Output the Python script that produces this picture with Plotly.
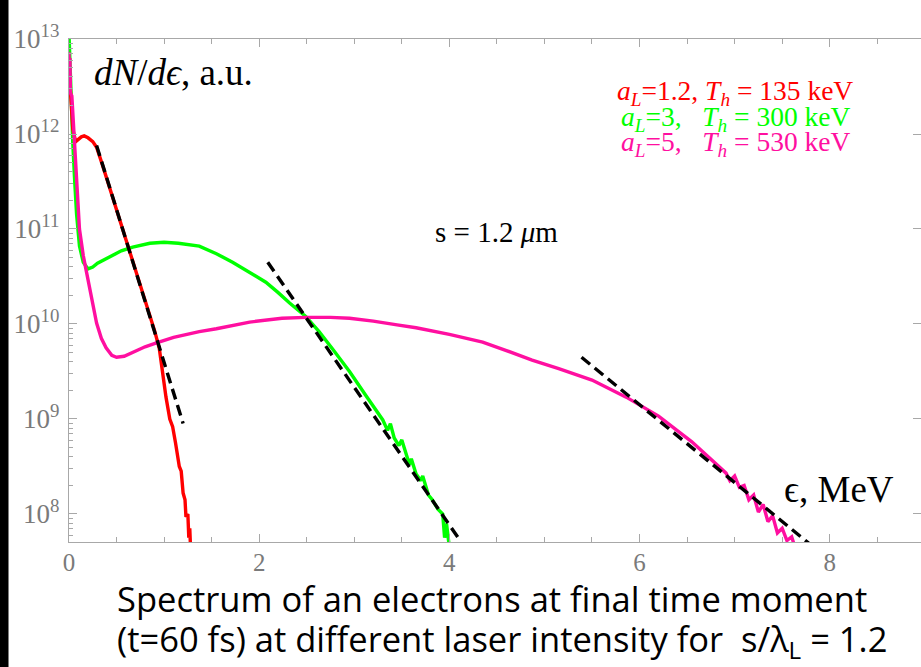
import base64
import struct
import zlib

import plotly.graph_objects as go

# ---- electron energy spectra: energy (MeV) and log10(dN/dE) in a.u. ----
red_E = [0.0, 0.02, 0.04, 0.07, 0.10, 0.13, 0.16, 0.20, 0.25, 0.29, 0.35, 0.40, 0.50,
         0.60, 0.70, 0.80, 0.90, 0.95, 0.98, 1.02, 1.06, 1.09, 1.12, 1.16, 1.18, 1.20,
         1.22, 1.23, 1.25, 1.26, 1.27, 1.28]
red_logN = [12.70, 12.30, 12.05, 11.92, 11.95, 11.97, 11.98, 11.96, 11.92, 11.86, 11.68,
            11.52, 11.20, 10.88, 10.56, 10.24, 9.93, 9.74, 9.50, 9.23, 9.00, 8.92, 8.75,
            8.50, 8.45, 8.22, 8.15, 7.97, 8.00, 7.75, 7.85, 7.60]

green_E = [0.0, 0.02, 0.04, 0.06, 0.08, 0.11, 0.15, 0.20, 0.25, 0.30, 0.43, 0.55, 0.67,
           0.85, 1.00, 1.15, 1.37, 1.55, 1.72, 1.90, 2.07, 2.20, 2.32, 2.49, 2.63, 2.77,
           2.95, 3.12, 3.30, 3.35, 3.38, 3.42, 3.47, 3.50, 3.55, 3.58, 3.60, 3.65, 3.70,
           3.72, 3.78, 3.82, 3.88, 3.93, 3.95, 3.97, 4.00, 4.03]
green_logN = [13.05, 12.40, 11.90, 11.50, 11.15, 10.82, 10.65, 10.58, 10.60, 10.64, 10.71,
              10.77, 10.81, 10.85, 10.86, 10.85, 10.82, 10.74, 10.65, 10.54, 10.44, 10.33,
              10.22, 10.08, 9.92, 9.74, 9.50, 9.25, 8.99, 8.88, 8.95, 8.80, 8.72, 8.78,
              8.60, 8.52, 8.58, 8.42, 8.35, 8.40, 8.20, 8.15, 8.05, 8.00, 7.75, 7.90,
              7.65, 7.60]

pink_E = [0.0, 0.005, 0.01, 0.015, 0.03, 0.06, 0.08, 0.11, 0.15, 0.195, 0.24, 0.29, 0.34,
          0.39, 0.45, 0.50, 0.58, 0.67, 0.80, 0.92, 1.10, 1.37, 1.55, 1.90, 2.24, 2.49,
          2.75, 2.95, 3.20, 3.45, 3.65, 4.00, 4.35, 4.60, 4.87, 5.15, 5.50, 5.86, 6.20,
          6.55, 6.91, 6.95, 7.00, 7.05, 7.10, 7.15, 7.20, 7.25, 7.30, 7.35, 7.40, 7.45,
          7.50, 7.55, 7.60, 7.65]
pink_logN = [12.86, 12.45, 12.80, 12.43, 12.40, 11.90, 11.50, 11.00, 10.72, 10.49, 10.22,
             10.01, 9.85, 9.75, 9.67, 9.65, 9.66, 9.70, 9.76, 9.80, 9.86, 9.92, 9.95,
             10.02, 10.06, 10.07, 10.07, 10.06, 10.03, 9.99, 9.96, 9.89, 9.81, 9.72,
             9.62, 9.53, 9.41, 9.23, 9.03, 8.76, 8.43, 8.35, 8.40, 8.28, 8.30, 8.15,
             8.20, 8.02, 8.10, 7.92, 7.98, 7.80, 7.85, 7.72, 7.76, 7.60]

# ---- exponential fits exp(-E/T_h) ----
fit_T_keV = [135, 300, 530]
fit_E_start = [0.29, 2.09, 5.39]
fit_E_end = [1.20, 4.10, 7.80]
fit_logN_start = [11.88, 10.65, 9.65]

legend_a = ["1.2", "3", "5"]

RED, GREEN, PINK = "#ff0000", "#00ff00", "#ff0fa0"
AXIS_GRAY = "#a8a8a8"
LABEL_GRAY = "#7a7a7a"
SERIF = "Liberation Serif, Times New Roman, serif"

fig = go.Figure()

for E, logN, col in [(green_E, green_logN, GREEN), (red_E, red_logN, RED),
                     (pink_E, pink_logN, PINK)]:
    fig.add_trace(go.Scatter(x=E, y=[10 ** v for v in logN], mode="lines",
                             line=dict(color=col, width=3.4), hoverinfo="skip"))

LN10 = 2.302585093
for T, e0, e1, l0 in zip(fit_T_keV, fit_E_start, fit_E_end, fit_logN_start):
    Th = T / 1000.0
    xs = [e0, e1]
    ys = [10 ** (l0 - (e - e0) / (Th * LN10)) for e in xs]
    fig.add_trace(go.Scatter(x=xs, y=ys, mode="lines",
                             line=dict(color="black", width=3.4, dash="11px,6px"),
                             hoverinfo="skip"))

# invisible trace on the right-hand axis so its ticks are drawn
fig.add_trace(go.Scatter(x=[0], y=[1e10], yaxis="y2", mode="markers",
                         marker=dict(opacity=0), hoverinfo="skip"))

decades = [8, 9, 10, 11, 12, 13]
minor_y = [k * 10 ** n for n in range(7, 13) for k in range(2, 10)
           if 5.07e7 <= k * 10 ** n <= 1e13]
minor_x = [v / 2 for v in range(0, 18) if v % 4 != 0]

fig.update_layout(
    width=921, height=667,
    margin=dict(l=69, r=0, t=39, b=125),
    paper_bgcolor="white", plot_bgcolor="white",
    showlegend=False,
    xaxis=dict(range=[0, 8.96], showgrid=False, zeroline=False,
               showline=True, linecolor=AXIS_GRAY, linewidth=1.4, mirror="ticks",
               ticks="inside", ticklen=8, tickwidth=1.2, tickcolor=AXIS_GRAY,
               tickvals=[0, 2, 4, 6, 8], ticktext=["0", "2", "4", "6", "8"],
               ticklabelstandoff=-2,
               minor=dict(ticks="inside", ticklen=5, tickwidth=1, tickcolor=AXIS_GRAY,
                          tickmode="array", tickvals=minor_x),
               tickfont=dict(family=SERIF, size=25, color=LABEL_GRAY)),
    yaxis=dict(type="log", range=[7.705, 13.0], showgrid=False, zeroline=False,
               showline=True, linecolor=AXIS_GRAY, linewidth=1.4, mirror=False,
               ticks="inside", ticklen=8, tickwidth=1.2, tickcolor=AXIS_GRAY,
               tickmode="array", tickvals=[10 ** d for d in decades],
               ticktext=[f"10<sup>{d}</sup>" for d in decades],
               ticklabelstandoff=3,
               minor=dict(ticks="inside", ticklen=4, tickwidth=1, tickcolor=AXIS_GRAY,
                          tickmode="array", tickvals=minor_y),
               tickfont=dict(family=SERIF, size=27, color=LABEL_GRAY)),
    yaxis2=dict(type="log", range=[7.705, 13.0], overlaying="y", side="right",
                showgrid=False, zeroline=False, showline=False,
                ticks="inside", ticklen=8, tickwidth=1.2, tickcolor=AXIS_GRAY,
                tickmode="array", tickvals=[10 ** d for d in decades[:-1]],
                showticklabels=False),
)


def solid_png(r, g, b):
    """Return a 1x1 PNG of one colour as a data URI."""
    def chunk(tag, data):
        return (struct.pack(">I", len(data)) + tag + data
                + struct.pack(">I", zlib.crc32(tag + data) & 0xFFFFFFFF))
    ihdr = struct.pack(">IIBBBBB", 1, 1, 8, 2, 0, 0, 0)
    raw = b"\x00" + bytes([r, g, b])
    png = (b"\x89PNG\r\n\x1a\n" + chunk(b"IHDR", ihdr)
           + chunk(b"IDAT", zlib.compress(raw)) + chunk(b"IEND", b""))
    return "data:image/png;base64," + base64.b64encode(png).decode()


# thick black bar along the left edge of the slide
PLOT_W, PLOT_H = 852, 503
fig.add_layout_image(source=solid_png(0, 0, 0), xref="paper", yref="paper",
                     x=-69 / PLOT_W, y=(PLOT_H + 39) / PLOT_H,
                     sizex=8.5 / PLOT_W, sizey=667 / PLOT_H,
                     xanchor="left", yanchor="top", sizing="stretch",
                     layer="above", opacity=1)

ann = []
ann.append(dict(x=(92 - 69) / 852, y=0.934, xanchor="left", yanchor="middle",
                text="<i>dN</i>/<i>d\u03f5</i>, a.u.",
                font=dict(family=SERIF, size=37, color="black")))
sp = "\u00a0"
legend_lines = [
    f"<i>a<sub>L</sub></i>={legend_a[0]}, <i>T<sub>h</sub></i> = {fit_T_keV[0]} keV",
    f"<i>a<sub>L</sub></i>={legend_a[1]},{sp * 3}<i>T<sub>h</sub></i> = {fit_T_keV[1]} keV",
    f"<i>a<sub>L</sub></i>={legend_a[2]},{sp * 3}<i>T<sub>h</sub></i> = {fit_T_keV[2]} keV",
]
for txt, col, py in zip(legend_lines, [RED, GREEN, PINK], [92, 118, 143]):
    ann.append(dict(x=(735 - 69) / 852, y=(542 - py) / 503, xanchor="center",
                    yanchor="middle", text=txt,
                    font=dict(family=SERIF, size=27.5, color=col)))
ann.append(dict(x=(433 - 69) / 852, y=(542 - 232) / 503, xanchor="left",
                yanchor="middle", text="s = 1.2 <i>\u03bc</i>m",
                font=dict(family=SERIF, size=29, color="black")))
ann.append(dict(x=(782 - 69) / 852, y=(542 - 489) / 503, xanchor="left",
                yanchor="middle", text="\u03f5, MeV",
                font=dict(family=SERIF, size=37, color="black")))
caption_font = dict(family="Open Sans, Lato, sans-serif", size=34.5, color="black")
ann.append(dict(x=(115 - 69) / 852, y=(542 - 598) / 503, xanchor="left",
                yanchor="middle", text="Spectrum of an electrons at final time moment",
                font=caption_font))
ann.append(dict(x=(115 - 69) / 852, y=(542 - 640) / 503, xanchor="left",
                yanchor="middle",
                text=f"(t=60 fs) at different laser intensity for{sp}{sp}s/\u03bb<sub>L</sub> = 1.2",
                font=caption_font))
for a in ann:
    a.update(xref="paper", yref="paper", showarrow=False)
fig.update_layout(annotations=ann)

fig.write_html("out.html")
